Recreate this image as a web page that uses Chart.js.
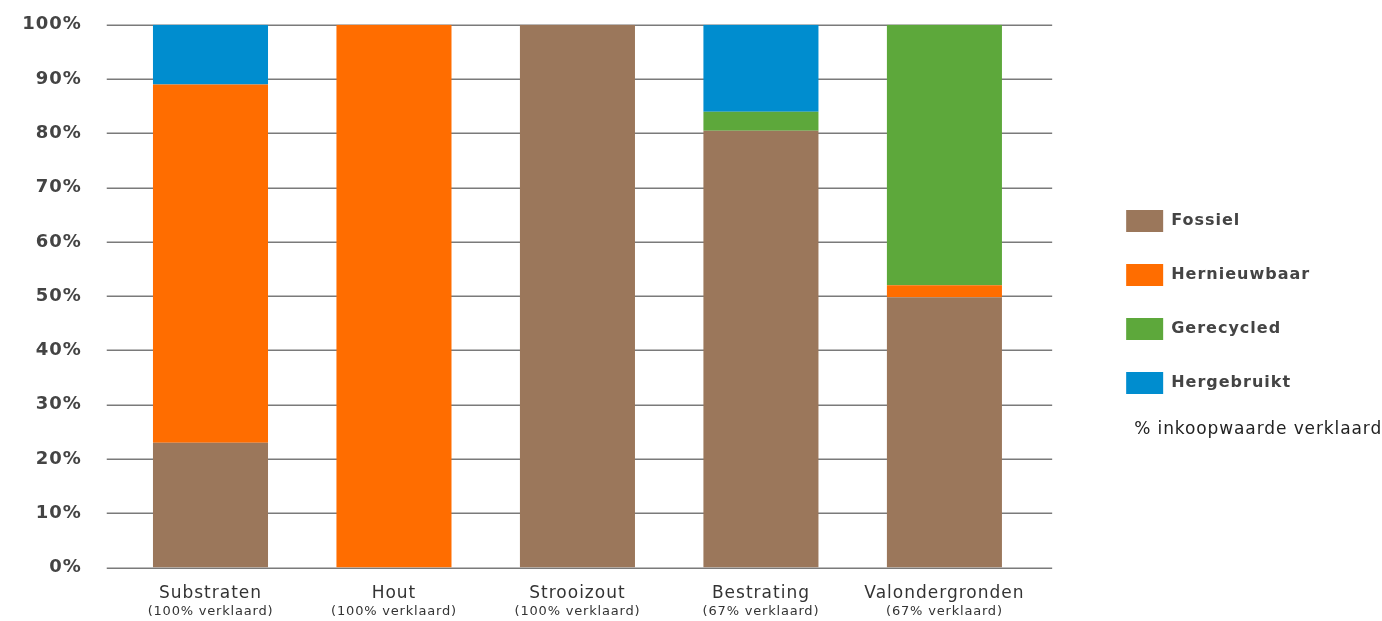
<!DOCTYPE html>
<html>
<head>
<meta charset="utf-8">
<script src="https://cdn.jsdelivr.net/npm/chart.js@4"></script>
<style>
  html, body { margin: 0; padding: 0; background: #fff; }
</style>
</head>
<body>
<canvas id="myChart" width="1382" height="621"></canvas>
<script>
// Categorieën en toelichting onder de as
var categorieen = ["Substraten", "Hout", "Strooizout", "Bestrating", "Valondergronden"];
var verklaard = ["(100% verklaard)", "(100% verklaard)", "(100% verklaard)", "(67% verklaard)", "(67% verklaard)"];

// Aandeel per herkomst (%)
var fossiel = [23, 0, 100, 80.5, 49.8];
var hernieuwbaar = [66, 100, 0, 0, 2.2];
var gerecycled = [0, 0, 0, 3.5, 48];
var hergebruikt = [11, 0, 0, 16, 0];

var yTicks = [0, 10, 20, 30, 40, 50, 60, 70, 80, 90, 100];
var voetnoot = "% inkoopwaarde verklaard";

var kleuren = {
  fossiel: "#9b775b",
  hernieuwbaar: "#ff6d00",
  gerecycled: "#5da83b",
  hergebruikt: "#008dcf",
};

var ctx = document.getElementById("myChart").getContext("2d");

// letterafstand voor de canvasteksten
var spatiering = {
  id: "spatiering",
  beforeLayout: function (chart) { chart.ctx.letterSpacing = "1px"; },
  beforeDraw: function (chart) { chart.ctx.letterSpacing = "1px"; },
};

// horizontale rasterlijnen die iets buiten het plotvlak doorlopen
var raster = {
  id: "raster",
  beforeDatasetsDraw: function (chart) {
    var y = chart.scales.y;
    var area = chart.chartArea;
    var c = chart.ctx;
    c.save();
    c.strokeStyle = "#7a7a7a";
    c.lineWidth = 1.5;
    yTicks.forEach(function (v) {
      var py = Math.round(y.getPixelForValue(v)) + 0.25;
      c.beginPath();
      c.moveTo(area.left - 12, py);
      c.lineTo(area.right + 16, py);
      c.stroke();
    });
    c.restore();
  },
};

// tweede regel onder de categorieën en de voetnoot bij de legenda
var teksten = {
  id: "teksten",
  afterDraw: function (chart) {
    var c = chart.ctx;
    var x = chart.scales.x;
    c.save();
    c.letterSpacing = "0.8px";
    c.fillStyle = "#333";
    c.textAlign = "center";
    c.textBaseline = "middle";
    c.font = "13px 'DejaVu Sans'";
    verklaard.forEach(function (t, i) {
      c.fillText(t, x.getPixelForValue(i), 612);
    });
    var boxes = chart.legend.legendHitBoxes;
    var laatste = boxes[boxes.length - 1];
    c.letterSpacing = "0.9px";
    c.textAlign = "left";
    c.font = "17px 'DejaVu Sans'";
    c.fillStyle = "#222";
    c.fillText(voetnoot, laatste.left + 8, laatste.top + 11 + 47);
    c.restore();
  },
};

var data = {
  labels: categorieen,
  datasets: [
    { label: "Fossiel", data: fossiel, backgroundColor: kleuren.fossiel },
    { label: "Hernieuwbaar", data: hernieuwbaar, backgroundColor: kleuren.hernieuwbaar },
    { label: "Gerecycled", data: gerecycled, backgroundColor: kleuren.gerecycled },
    { label: "Hergebruikt", data: hergebruikt, backgroundColor: kleuren.hergebruikt },
  ],
};

var options = {
  responsive: false,
  animation: false,
  barPercentage: 0.627,
  categoryPercentage: 1,
  layout: { padding: { top: 0, bottom: 17, left: 0, right: 69 } },
  scales: {
    x: {
      stacked: true,
      grid: { display: false, drawTicks: true, tickLength: 16 },
      border: { display: false },
      ticks: {
        padding: 0,
        color: "#333",
        font: { family: "DejaVu Sans", size: 17 },
      },
    },
    y: {
      stacked: true,
      min: 0,
      max: 100,
      grid: { display: false, drawTicks: true, tickLength: 23 },
      border: { display: false },
      ticks: {
        stepSize: 10,
        padding: 14,
        color: "#444",
        font: { family: "DejaVu Sans", size: 18, weight: "bold" },
        callback: function (v) { return v + "%"; },
      },
      afterFit: function (s) { s.width = 118.75; },
    },
    // lege ruimte tussen plotvlak en legenda
    ruimte: {
      position: "right",
      display: true,
      grid: { display: false },
      border: { display: false },
      ticks: { display: false },
      afterFit: function (s) { s.width = 58; },
    },
  },
  plugins: {
    tooltip: { enabled: false },
    legend: {
      position: "right",
      align: "center",
      fullSize: true,
      labels: {
        boxWidth: 37,
        boxHeight: 22,
        padding: 32,
        color: "#444",
        font: { family: "DejaVu Sans", size: 16, weight: "bold" },
      },
    },
  },
};

var myChart = new Chart(ctx, {
  type: "bar",
  data: data,
  options: options,
  plugins: [spatiering, raster, teksten],
});
</script>
</body>
</html>
